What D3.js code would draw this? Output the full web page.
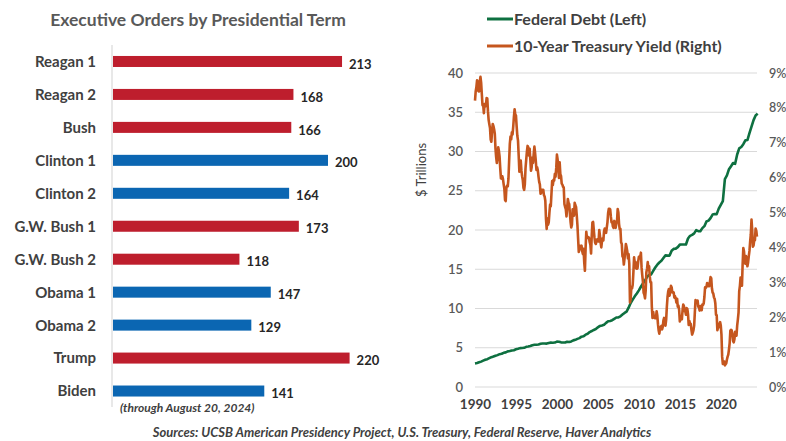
<!DOCTYPE html>
<html>
<head>
<meta charset="utf-8">
<script src="https://cdn.jsdelivr.net/npm/d3@7"></script>
<style>
  html, body { margin: 0; padding: 0; background: #fff; }
  svg { display: block; font-family: Lato, "Open Sans", sans-serif; }
</style>
</head>
<body>
<svg id="chart" width="786" height="441"></svg>
<script>
// ---------------- DATA ----------------
const terms = ["Reagan 1","Reagan 2","Bush","Clinton 1","Clinton 2","G.W. Bush 1","G.W. Bush 2","Obama 1","Obama 2","Trump","Biden"];
const orders = [213,168,166,200,164,173,118,147,129,220,141];
const parties = ["R","R","R","D","D","R","R","D","D","R","D"];

// Federal debt, $ trillions, quarterly from 1990 Q1 to 2024 Q3 start
const debtStartYear = 1990;
const debtQuarterly = [
  3.00,3.05,3.14,3.23, 3.36,3.47,3.54,3.67, 3.80,3.88,3.98,4.06, 4.18,4.23,4.35,4.41,
  4.54,4.58,4.65,4.69, 4.80,4.86,4.95,4.97, 4.99,5.12,5.16,5.22, 5.32,5.38,5.38,5.41,
  5.50,5.54,5.55,5.53, 5.61,5.65,5.64,5.66, 5.78,5.77,5.69,5.67, 5.66,5.77,5.73,5.81,
  5.94,6.01,6.13,6.23, 6.41,6.46,6.67,6.78, 7.00,7.13,7.27,7.38, 7.60,7.78,7.84,7.93,
  8.17,8.37,8.42,8.51, 8.68,8.85,8.87,9.01, 9.23,9.44,9.60,10.10, 10.70,11.13,11.55,11.91,
  12.31,12.77,13.20,13.56, 14.03,14.27,14.34,14.79, 15.22,15.58,15.86,16.07, 16.43,16.77,16.74,16.74,
  17.35,17.60,17.63,17.82, 18.14,18.15,18.15,18.15, 18.92,19.26,19.38,19.57, 19.98,19.85,19.84,20.24,
  20.49,21.09,21.20,21.52, 21.97,22.03,22.02,22.72, 23.20,23.69,26.48,26.95, 27.75,28.13,28.53,28.43,
  29.62,30.40,30.57,30.93, 31.42,31.46,32.33,33.17, 34.00,34.59,34.83
];

// 10-year Treasury yield, %, monthly from Jan 1990 to Jun 2024
const yieldStartYear = 1990;
const yieldMonthly = [
  8.21,8.47,8.59,8.79,8.76,8.48,8.47,8.75,8.89,8.72,8.39,8.08,
  8.09,7.85,8.11,8.04,8.07,8.28,8.27,7.90,7.65,7.53,7.42,7.09,
  7.03,7.34,7.54,7.48,7.39,7.26,6.84,6.59,6.42,6.59,6.87,6.77,
  6.60,6.26,5.98,5.97,6.04,5.96,5.81,5.68,5.36,5.33,5.72,5.77,
  5.75,5.97,6.48,6.97,7.18,7.10,7.30,7.24,7.46,7.74,7.96,7.81,
  7.78,7.47,7.20,7.06,6.63,6.17,6.28,6.49,6.20,6.04,5.93,5.71,
  5.65,5.81,6.27,6.51,6.74,6.91,6.87,6.64,6.83,6.53,6.20,6.30,
  6.58,6.42,6.69,6.89,6.71,6.49,6.22,6.30,6.21,6.03,5.88,5.81,
  5.54,5.57,5.65,5.64,5.65,5.50,5.46,5.34,4.81,4.53,4.83,4.65,
  4.72,5.00,5.23,5.18,5.54,5.90,5.79,5.94,5.92,6.11,6.03,6.28,
  6.66,6.52,6.26,5.99,6.44,6.10,6.05,5.83,5.80,5.74,5.72,5.24,
  5.16,5.10,4.89,5.14,5.39,5.28,5.24,4.97,4.73,4.57,4.65,5.09,
  5.04,4.91,5.28,5.21,5.16,4.93,4.65,4.26,3.87,3.94,4.05,4.03,
  4.05,3.90,3.81,3.96,3.57,3.33,3.98,4.45,4.27,4.29,4.30,4.27,
  4.15,4.08,3.83,4.35,4.72,4.73,4.50,4.28,4.13,4.10,4.19,4.23,
  4.22,4.17,4.50,4.34,4.14,4.00,4.18,4.26,4.20,4.46,4.54,4.47,
  4.42,4.57,4.72,4.99,5.11,5.11,5.09,4.88,4.72,4.73,4.60,4.56,
  4.76,4.72,4.56,4.69,4.75,5.10,5.00,4.67,4.52,4.53,4.15,4.10,
  3.74,3.74,3.51,3.68,3.88,4.10,4.01,3.89,3.69,3.81,3.53,2.42,
  2.52,2.87,2.82,2.93,3.29,3.72,3.56,3.59,3.40,3.39,3.40,3.59,
  3.73,3.69,3.73,3.85,3.42,3.20,3.01,2.70,2.65,2.54,2.76,3.29,
  3.39,3.58,3.41,3.46,3.17,3.00,3.00,2.30,1.98,2.15,2.01,1.98,
  1.97,1.97,2.17,2.05,1.80,1.62,1.53,1.68,1.72,1.75,1.65,1.72,
  1.91,1.98,1.96,1.76,1.93,2.30,2.58,2.74,2.81,2.62,2.72,2.90,
  2.86,2.71,2.72,2.71,2.56,2.60,2.54,2.42,2.53,2.30,2.33,2.21,
  1.88,1.98,2.04,1.94,2.20,2.36,2.32,2.17,2.17,2.07,2.26,2.24,
  2.09,1.78,1.89,1.81,1.81,1.64,1.50,1.56,1.63,1.76,2.14,2.49,
  2.43,2.42,2.48,2.30,2.30,2.19,2.32,2.21,2.20,2.36,2.35,2.40,
  2.58,2.86,2.84,2.87,2.98,2.91,2.89,2.89,3.00,3.15,3.12,2.83,
  2.71,2.68,2.57,2.53,2.40,2.07,2.06,1.63,1.70,1.71,1.81,1.86,
  1.76,1.50,0.87,0.66,0.67,0.73,0.62,0.65,0.68,0.79,0.87,0.93,
  1.08,1.26,1.61,1.64,1.62,1.52,1.32,1.28,1.37,1.58,1.56,1.47,
  1.76,1.93,2.13,2.75,2.90,3.14,2.90,2.90,3.52,3.98,3.89,3.62,
  3.53,3.75,3.66,3.46,3.57,3.75,3.90,4.17,4.38,4.80,4.50,4.02,
  4.06,4.21,4.21,4.54,4.48,4.31
];

const leftTicks = [0,5,10,15,20,25,30,35,40];
const rightTicks = [0,1,2,3,4,5,6,7,8,9];
const yearTicks = [1990,1995,2000,2005,2010,2015,2020];

const titleText = "Executive Orders by Presidential Term";
const noteText = "(through August 20, 2024)";
const sourceText = "Sources: UCSB American Presidency Project, U.S. Treasury, Federal Reserve, Haver Analytics";
const legendLabels = ["Federal Debt (Left)", "10-Year Treasury Yield (Right)"];
const yTitle = "$ Trillions";

// ---------------- STYLE ----------------
const RED = "#BE1E2D", BLUE = "#0B66B2", GREEN = "#0E7040", ORANGE = "#C5561E";
const GRID = "#D9D9D9", TXT = "#404040", TXT2 = "#595959";

const svg = d3.select("#chart");

// ---------------- BAR CHART ----------------
const xb = d3.scaleLinear().domain([0, 220]).range([112, 349.6]);
const yb = d3.scaleBand().domain(terms).range([45, 407.5]).paddingInner(0.666).paddingOuter(0.333);

svg.append("text")
  .attr("x", 198).attr("y", 26)
  .attr("text-anchor", "middle")
  .attr("font-size", 17.5).attr("font-weight", 700).attr("fill", TXT2)
  .text(titleText);

const bars = svg.append("g");
bars.selectAll("rect").data(terms).join("rect")
  .attr("x", xb(0) + 1)
  .attr("y", d => yb(d))
  .attr("width", (d, i) => xb(orders[i]) - xb(0) - 1)
  .attr("height", yb.bandwidth())
  .attr("fill", (d, i) => parties[i] === "R" ? RED : BLUE);

svg.append("line")
  .attr("x1", xb(0)).attr("x2", xb(0))
  .attr("y1", 45).attr("y2", 407)
  .attr("stroke", GRID).attr("stroke-width", 1.2);

bars.selectAll("text.cat").data(terms).join("text")
  .attr("class", "cat")
  .attr("x", 96)
  .attr("y", d => yb(d) + yb.bandwidth() / 2)
  .attr("dy", "0.36em")
  .attr("text-anchor", "end")
  .attr("font-size", 15).attr("font-weight", 700).attr("fill", TXT)
  .text(d => d);

bars.selectAll("text.val").data(terms).join("text")
  .attr("class", "val")
  .attr("x", (d, i) => xb(orders[i]) + 7)
  .attr("y", d => yb(d) + yb.bandwidth() / 2)
  .attr("dy", "0.55em")
  .attr("font-size", 13).attr("font-weight", 700).attr("fill", "#262626")
  .text((d, i) => orders[i]);

svg.append("text")
  .attr("x", 120).attr("y", 412)
  .attr("font-size", 12).attr("font-weight", 700).attr("font-style", "italic").attr("fill", TXT)
  .text(noteText);

// ---------------- LINE CHART ----------------
const xl = d3.scaleLinear().domain([1990, 2024.42]).range([475, 757]);
const yL = d3.scaleLinear().domain([0, 40]).range([387, 73]);
const yR = d3.scaleLinear().domain([0, 9]).range([387, 73]);

const gridG = svg.append("g");
gridG.selectAll("line").data(leftTicks).join("line")
  .attr("x1", 475).attr("x2", 757)
  .attr("y1", d => yL(d)).attr("y2", d => yL(d))
  .attr("stroke", GRID).attr("stroke-width", 1);

const leftAxis = d3.axisLeft(yL).tickValues(leftTicks).tickSize(0).tickPadding(0);
svg.append("g").attr("transform", "translate(463,0)").call(leftAxis)
  .call(g => g.select(".domain").remove())
  .call(g => g.selectAll("text").attr("font-size", 13).attr("fill", TXT2)
    .attr("font-family", "Lato, sans-serif").attr("font-weight", 600));

const rightAxis = d3.axisRight(yR).tickValues(rightTicks).tickSize(0).tickPadding(0).tickFormat(d => d + "%");
svg.append("g").attr("transform", "translate(769,0)").call(rightAxis)
  .call(g => g.select(".domain").remove())
  .call(g => g.selectAll("text").attr("font-size", 12.5).attr("fill", TXT2)
    .attr("font-family", "Lato, sans-serif").attr("font-weight", 600));

const bottomAxis = d3.axisBottom(xl).tickValues(yearTicks).tickSize(0).tickPadding(0).tickFormat(d3.format("d"));
svg.append("g").attr("transform", "translate(0,399)").call(bottomAxis)
  .call(g => g.select(".domain").remove())
  .call(g => g.selectAll("text").attr("font-size", 13.5).attr("fill", TXT)
    .attr("font-family", "Lato, sans-serif").attr("font-weight", 700));

svg.append("text")
  .attr("transform", "translate(426,170) rotate(-90)")
  .attr("text-anchor", "middle")
  .attr("font-size", 13).attr("fill", TXT)
  .text(yTitle);

const debtData = debtQuarterly.map((v, i) => ({ t: debtStartYear + i / 4, v }));
const yieldData = yieldMonthly.map((v, i) => ({ t: yieldStartYear + i / 12, v }));

svg.append("path").datum(debtData)
  .attr("fill", "none").attr("stroke", GREEN).attr("stroke-width", 2.6)
  .attr("stroke-linejoin", "round")
  .attr("d", d3.line().x(d => xl(d.t)).y(d => yL(d.v)));

svg.append("path").datum(yieldData)
  .attr("fill", "none").attr("stroke", ORANGE).attr("stroke-width", 2.6)
  .attr("stroke-linejoin", "round")
  .attr("d", d3.line().x(d => xl(d.t)).y(d => yR(d.v)));

// legend
const legY = [19, 46];
const legC = [GREEN, ORANGE];
const leg = svg.append("g");
leg.selectAll("line").data(legendLabels).join("line")
  .attr("x1", 487).attr("x2", 513)
  .attr("y1", (d, i) => legY[i]).attr("y2", (d, i) => legY[i])
  .attr("stroke", (d, i) => legC[i]).attr("stroke-width", 3);
leg.selectAll("text").data(legendLabels).join("text")
  .attr("x", 514).attr("y", (d, i) => legY[i]).attr("dy", "0.36em")
  .attr("font-size", 16).attr("font-weight", 700).attr("fill", TXT)
  .text(d => d);

// sources
svg.append("text")
  .attr("x", 402).attr("y", 437)
  .attr("text-anchor", "middle")
  .attr("font-size", 13).attr("font-weight", 700).attr("font-style", "italic").attr("fill", TXT)
  .text(sourceText);
</script>
</body>
</html>
